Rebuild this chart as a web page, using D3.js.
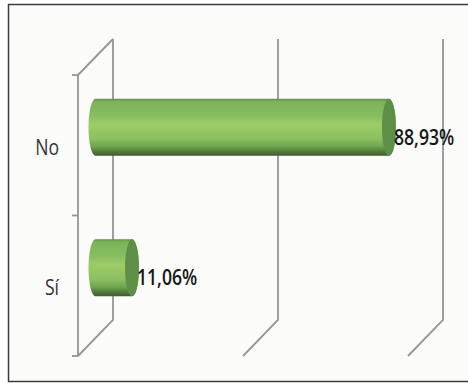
<!DOCTYPE html>
<html>
<head>
<meta charset="utf-8">
<script src="https://cdn.jsdelivr.net/npm/d3@7"></script>
<style>
  html, body { margin: 0; padding: 0; background: #ffffff; }
  svg { display: block; }
  text { font-family: "Open Sans", "Noto Sans", sans-serif; }
</style>
</head>
<body>
<div id="chart"></div>
<script>
const categories = ["No", "Sí"];
const values = [88.93, 11.06];
const valueLabels = ["88,93%", "11,06%"];
const axisTicks = [0, 50, 100];

const width = 468, height = 383;
const depthX = 35, depthY = -36;   // oblique offset of the back wall
const capRx = 7;
const condense = 0.8;              // narrows the tall label type

const x = d3.scaleLinear().domain([0, 100]).range([78, 408]);
const y = d3.scaleBand().domain(categories).range([75, 356]);

const svg = d3.select("#chart").append("svg")
  .attr("width", width).attr("height", height);

// chart frame
svg.append("rect")
  .attr("x", 8.5).attr("y", 4.5)
  .attr("width", 470).attr("height", 377)
  .attr("fill", "#fbfbf9")
  .attr("stroke", "#3c3c3c").attr("stroke-width", 1.5);

const defs = svg.append("defs");
const bodyGrad = defs.append("linearGradient")
  .attr("id", "cyl").attr("x1", 0).attr("y1", 0).attr("x2", 0).attr("y2", 1);
[[0, "#5f9348"], [0.05, "#7ab35a"], [0.28, "#86bd5f"], [0.45, "#9ecb68"],
 [0.7, "#8cc060"], [0.84, "#6fa34e"], [0.93, "#4f7a3a"], [1, "#3f5a33"]]
  .forEach(([o, c]) => bodyGrad.append("stop").attr("offset", o).attr("stop-color", c));

// gridlines: front foot, back wall upright
const wall = "#959597";
const grid = svg.append("g").attr("fill", "none").attr("stroke", wall).attr("stroke-width", 1.8);
axisTicks.forEach(t => {
  const fx = x(t), bx = fx + depthX;
  const yTop = y.range()[0] + depthY, yBot = y.range()[1] + depthY;
  grid.append("path").attr("d", d3.line()([[fx, y.range()[1]], [bx, yBot], [bx, yTop]]));
  if (t === 0) grid.append("path").attr("d", d3.line()([[fx, y.range()[0]], [bx, yTop]]));
});

// category axis with its tick marks
const [y0, y1] = y.range();
const axisEdges = [y0, y0 + y.step(), y1];
grid.append("line").attr("x1", x(0)).attr("x2", x(0)).attr("y1", y0).attr("y2", y1);
axisEdges.forEach(v => {
  grid.append("line").attr("x1", x(0) - 6).attr("x2", x(0)).attr("y1", v).attr("y2", v);
});

function squeeze(sel) {
  const w = sel.node().getComputedTextLength();
  sel.attr("textLength", w * condense).attr("lengthAdjust", "spacingAndGlyphs");
}

// cylinders sit halfway through the depth
const offX = depthX / 2, offY = depthY / 2;
const barH = 57;
categories.forEach((c, i) => {
  const mid = y(c) + y.bandwidth() / 2;
  const cy = mid + offY;
  const x0 = x(0) + offX, x1 = x(values[i]) + offX;
  const top = cy - barH / 2, bot = cy + barH / 2;
  svg.append("path")
    .attr("d", `M${x0},${top} L${x1},${top} A${capRx},${barH / 2} 0 0 1 ${x1},${bot} L${x0},${bot} A${capRx},${barH / 2} 0 0 1 ${x0},${top} Z`)
    .attr("fill", "url(#cyl)");
  svg.append("ellipse")
    .attr("cx", x1).attr("cy", cy).attr("rx", capRx).attr("ry", barH / 2)
    .attr("fill", "#5d9046");
  svg.append("text")
    .attr("x", x1 + capRx - 2).attr("y", cy + 17.5)
    .attr("font-size", 22).attr("font-weight", 600).attr("fill", "#161616")
    .text(valueLabels[i])
    .call(squeeze);
  const cat = svg.append("text")
    .attr("y", mid + 9.5)
    .attr("font-size", 22).attr("fill", "#333333")
    .text(c)
    .call(squeeze);
  cat.attr("x", 59 - cat.node().getComputedTextLength());
});
</script>
</body>
</html>
